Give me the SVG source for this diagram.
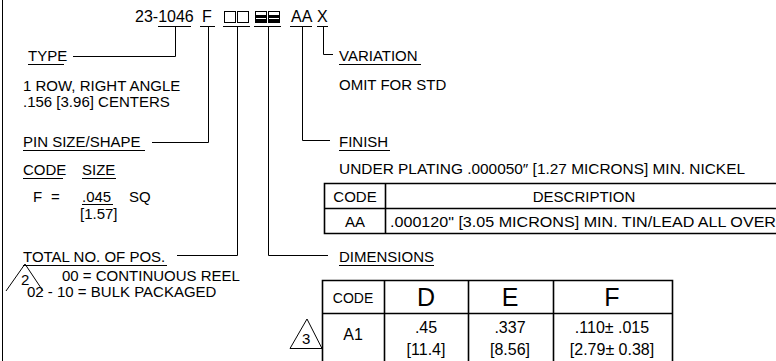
<svg xmlns="http://www.w3.org/2000/svg" width="776" height="361" viewBox="0 0 776 361">
<style>
text{font-family:"Liberation Sans",Arial,sans-serif;font-size:15px;fill:#000}
.h{font-size:16px}
.t14{font-size:14px}
.t16{font-size:16px}
.big{font-size:25px}
.m{text-anchor:middle}
.ln{stroke:#000;stroke-width:1;fill:none}
.tb{stroke:#000;stroke-width:1.6;fill:none}
</style>
<rect width="776" height="361" fill="#fff"/>
<line class="ln" x1="2.5" y1="0" x2="2.5" y2="361"/>
<g id="header">
<text class="h" x="135" y="22">23-1046</text>
<text class="h" x="202" y="22">F</text>
<rect class="ln" x="224.5" y="11.5" width="11" height="11"/>
<rect class="ln" x="237.5" y="11.5" width="11" height="11"/>
<rect class="ln" x="255.5" y="11.5" width="11" height="11"/>
<rect x="256" y="15" width="10" height="7" fill="#000"/>
<line x1="256" y1="18.5" x2="266" y2="18.5" stroke="#fff" stroke-width="1"/>
<rect class="ln" x="268.5" y="11.5" width="11" height="11"/>
<rect x="269" y="15" width="10" height="7" fill="#000"/>
<line x1="269" y1="18.5" x2="279" y2="18.5" stroke="#fff" stroke-width="1"/>
<text class="h" x="291" y="22">AA</text>
<text class="h" x="317" y="22">X</text>
</g>
<g id="connectors">
<path class="ln" d="M158 26.5H191M175.5 26.5V56.5H73"/>
<path class="ln" d="M200 26.5H215M208.5 26.5V142.5H152"/>
<path class="ln" d="M223 26.5H250M237.5 26.5V255.5H177"/>
<path class="ln" d="M254 26.5H281M268.5 26.5V255.5H328"/>
<path class="ln" d="M290 26.5H312M302.5 26.5V140.5H330"/>
<path class="ln" d="M317 26.5H328M323.5 26.5V54.5H333"/>
</g>
<g id="type">
<text x="28" y="61">TYPE</text>
<line class="ln" x1="28" y1="64.5" x2="64" y2="64.5"/>
<text x="23" y="91">1 ROW, RIGHT ANGLE</text>
<text x="23" y="107">.156 [3.96] CENTERS</text>
</g>
<g id="pinsize">
<text x="23" y="147">PIN SIZE/SHAPE</text>
<line class="ln" x1="23" y1="150.5" x2="145" y2="150.5"/>
<text x="23" y="175">CODE</text>
<line class="ln" x1="23" y1="178.5" x2="63" y2="178.5"/>
<text x="82" y="175">SIZE</text>
<line class="ln" x1="82" y1="178.5" x2="116" y2="178.5"/>
<text x="33" y="202">F</text>
<text x="51" y="202">=</text>
<text x="82" y="202">.045</text>
<line class="ln" x1="82" y1="204.5" x2="113" y2="204.5"/>
<text x="129" y="202">SQ</text>
<text x="80" y="219">[1.57]</text>
</g>
<g id="totalpos">
<text x="23" y="262">TOTAL NO. OF POS.</text>
<line class="ln" x1="23" y1="265.5" x2="167" y2="265.5"/>
<polyline class="ln" points="6,291 25,264 43,291"/>
<text x="21" y="285">2</text>
<text x="62" y="281">00 = CONTINUOUS REEL</text>
<text x="27" y="297">02 - 10 = BULK PACKAGED</text>
</g>
<g id="variation">
<text x="339" y="61">VARIATION</text>
<line class="ln" x1="339" y1="64.5" x2="421" y2="64.5"/>
<text x="339" y="90">OMIT FOR STD</text>
</g>
<g id="finish">
<text x="339" y="147">FINISH</text>
<line class="ln" x1="339" y1="150.5" x2="390" y2="150.5"/>
<text x="339" y="174" textLength="406" lengthAdjust="spacingAndGlyphs">UNDER PLATING .000050″ [1.27 MICRONS] MIN. NICKEL</text>
<path class="tb" d="M780 183.5H324.5V233.5H780M324.5 208.5H780M385.5 183.5V233.5"/>
<text class="m" x="355" y="202">CODE</text>
<text class="m" x="584" y="202">DESCRIPTION</text>
<text class="m" x="355" y="227">AA</text>
<text x="390" y="227" textLength="386" lengthAdjust="spacingAndGlyphs">.000120" [3.05 MICRONS] MIN. TIN/LEAD ALL OVER</text>
</g>
<g id="dimensions">
<text x="339" y="262">DIMENSIONS</text>
<line class="ln" x1="339" y1="265.5" x2="434" y2="265.5"/>
<path class="tb" d="M322.5 370V280.5H672.5V370M322.5 313.5H672.5M384.5 280.5V370M468.5 280.5V370M553.5 280.5V370"/>
<text class="m t14" x="353" y="303">CODE</text>
<text class="m big" x="426" y="306">D</text>
<text class="m big" x="510" y="306">E</text>
<text class="m big" x="612" y="306">F</text>
<text class="m t16" x="353" y="340">A1</text>
<text class="m t16" x="426" y="333">.45</text>
<text class="m t16" x="426" y="355">[11.4]</text>
<text class="m t16" x="510" y="333">.337</text>
<text class="m t16" x="510" y="355">[8.56]</text>
<text class="m t16" x="612" y="333">.110± .015</text>
<text class="m t16" x="612" y="355">[2.79± 0.38]</text>
<polygon class="ln" points="290,348.5 307,319 322,348.5"/>
<text x="302" y="344">3</text>
</g>
</svg>
